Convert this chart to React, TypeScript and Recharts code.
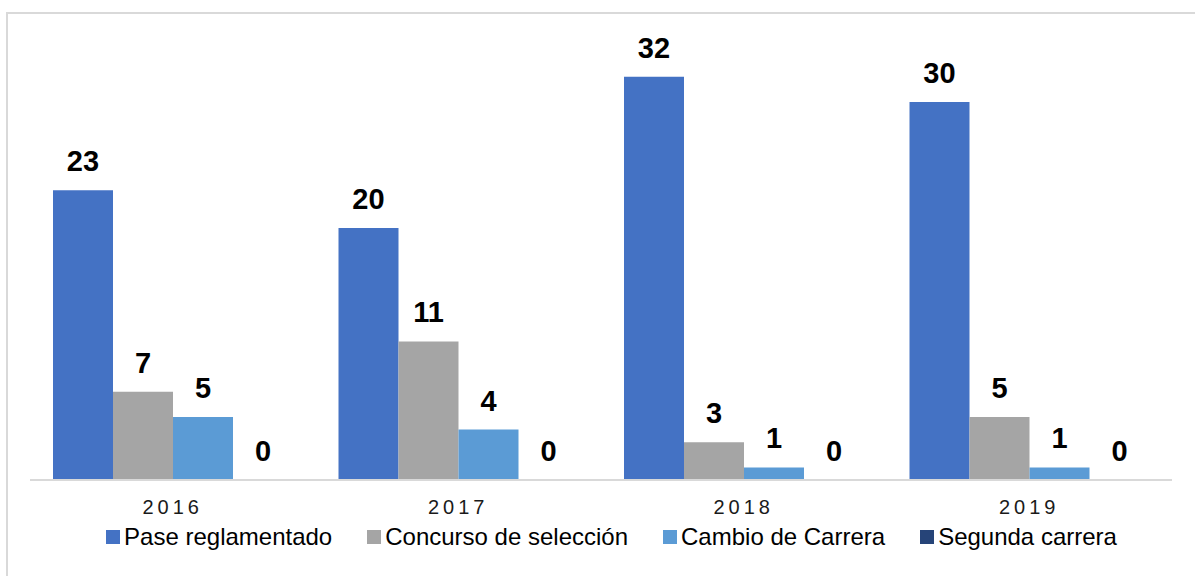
import React from 'react';
import { BarChart, Bar, XAxis, YAxis, LabelList, Legend } from 'recharts';

const years = ['2016', '2017', '2018', '2019'];
const pase = [23, 20, 32, 30];
const concurso = [7, 11, 3, 5];
const cambio = [5, 4, 1, 1];
const segunda = [0, 0, 0, 0];

const seriesNames = ['Pase reglamentado', 'Concurso de selección', 'Cambio de Carrera', 'Segunda carrera'];
const seriesKeys = ['pase', 'concurso', 'cambio', 'segunda'];
const seriesColors = ['#4472C4', '#A5A5A5', '#5B9BD5', '#264478'];

const data = years.map((y, i) => ({
  year: y,
  pase: pase[i],
  concurso: concurso[i],
  cambio: cambio[i],
  segunda: segunda[i],
}));

const FONT = '"Liberation Sans", Arial, sans-serif';

const renderLegend = () => {
  return (
    <div style={{ display: 'flex', justifyContent: 'center', gap: 35, fontFamily: FONT, fontSize: 24, color: '#000' }}>
      {seriesNames.map((name, i) => (
        <div key={name} style={{ display: 'flex', alignItems: 'center' }}>
          <div style={{ width: 14, height: 14, background: seriesColors[i], marginRight: 4 }} />
          <span style={{ lineHeight: '28px' }}>{name}</span>
        </div>
      ))}
    </div>
  );
};

export default function App() {
  return (
    <div style={{ position: 'fixed', left: 0, top: 0, width: 1195, height: 576, overflow: 'hidden', background: '#fff', fontFamily: FONT }}>
      <div style={{ position: 'absolute', left: 6, top: 12, width: 1200, height: 600, border: '2px solid #d9d9d9', boxSizing: 'border-box' }} />
      <div style={{ position: 'absolute', left: 0, top: 0 }}>
        <BarChart
          width={1195}
          height={576}
          data={data}
          margin={{ top: 39, right: 23, bottom: 66, left: 30 }}
          barCategoryGap={23}
          barGap={0}
        >
          <XAxis
            dataKey="year"
            height={30}
            axisLine={{ stroke: '#d9d9d9', strokeWidth: 2 }}
            tickLine={false}
            tickMargin={14}
            tick={{ fontSize: 20, fill: '#1a1a1a', letterSpacing: 4, fontFamily: FONT }}
          />
          <YAxis hide domain={[0, 35]} />
          <Legend
            layout="horizontal"
            verticalAlign="middle"
            align="center"
            content={renderLegend}
            wrapperStyle={{ top: 523, left: 14, width: 1195 }}
          />
          {seriesKeys.map((k, i) => (
            <Bar
              key={k}
              dataKey={k}
              name={seriesNames[i]}
              fill={seriesColors[i]}
              minPointSize={0.01}
              isAnimationActive={false}
            >
              <LabelList
                dataKey={k}
                position="top"
                offset={19}
                style={{ fontSize: 29, fontWeight: 'bold', fill: '#000', fontFamily: FONT }}
              />
            </Bar>
          ))}
        </BarChart>
      </div>
    </div>
  );
}
